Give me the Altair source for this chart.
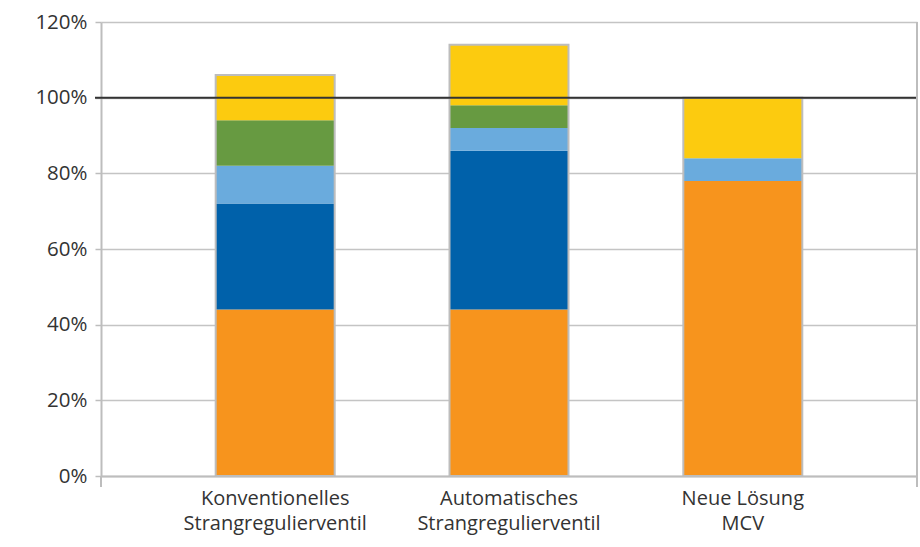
import altair as alt
import pandas as pd

categories = ["Konventionelles\nStrangregulierventil", "Automatisches\nStrangregulierventil", "Neue Lösung\nMCV"]
series = ["Anteil 1", "Anteil 2", "Anteil 3", "Anteil 4", "Anteil 5"]
colors = ["#F7941D", "#0061AA", "#6AABDD", "#679A41", "#FCCB0F"]
values = {
    "Anteil 1": [44, 44, 78],
    "Anteil 2": [28, 42, 0],
    "Anteil 3": [10, 6, 6],
    "Anteil 4": [12, 6, 0],
    "Anteil 5": [12, 16, 16],
}
y_ticks = [0, 20, 40, 60, 80, 100, 120]

rows = []
for si, s in enumerate(series):
    for ci, c in enumerate(categories):
        rows.append({"cat": c, "series": s, "order": si, "value": values[s][ci]})
df = pd.DataFrame(rows)
totals = pd.DataFrame({"cat": categories,
                       "total": [sum(values[s][i] for s in series) for i in range(len(categories))]})

W, H = 816, 454
FS = 20.5
x_enc = alt.X("cat:N", sort=categories,
              scale=alt.Scale(paddingInner=0.49, paddingOuter=0.49),
              axis=alt.Axis(title=None, labelAngle=0, ticks=False, domain=True,
                            domainColor="#BDBDBD", domainWidth=2,
                            labelExpr="split(datum.label, '\\n')",
                            labelLineHeight=25, labelPadding=12, labelBaseline="top",
                            labelLimit=400,
                            labelFontSize=20, labelColor="#333333", labelFont="Open Sans"))
y_scale = alt.Scale(domain=[0, 120], nice=False)

bars = alt.Chart(df).mark_bar(size=119).encode(
    x=x_enc,
    y=alt.Y("value:Q", stack="zero", scale=y_scale,
            axis=alt.Axis(title=None, values=y_ticks, labelExpr="datum.value + '%'",
                          grid=True, gridColor="#C4C4C4", gridWidth=1.5,
                          domainColor="#BDBDBD", domainWidth=2,
                          tickColor="#BDBDBD", tickSize=6, tickWidth=1.5,
                          labelPadding=8, labelFontSize=FS, labelColor="#333333",
                          labelFont="Open Sans")),
    color=alt.Color("series:N", scale=alt.Scale(domain=series, range=colors), legend=None),
    order=alt.Order("order:Q", sort="ascending"),
)

outline = alt.Chart(totals).mark_bar(size=119, fill=None, stroke="#BDBDBD", strokeWidth=2).encode(
    x=alt.X("cat:N", sort=categories),
    y=alt.Y("total:Q", scale=y_scale),
)

one = pd.DataFrame({"a": [0]})
line100 = alt.Chart(one).mark_rule(color="#333333", strokeWidth=2).encode(
    y=alt.datum(100), x=alt.value(-6), x2=alt.value(W))
right_edge = alt.Chart(one).mark_rule(color="#BDBDBD", strokeWidth=2).encode(
    x=alt.value(W), y=alt.value(0), y2=alt.value(H + 11))
left_ext = alt.Chart(one).mark_rule(color="#BDBDBD", strokeWidth=2).encode(
    x=alt.value(0), y=alt.value(H), y2=alt.value(H + 11))

chart = alt.layer(bars, outline, line100, right_edge, left_ext).properties(
    width=W, height=H,
    autosize=alt.AutoSizeParams(type="none"),
    padding={"left": 101, "top": 22, "right": 3, "bottom": 71},
).configure_view(stroke=None)

chart.save("out.html", embed_options={"renderer": "svg", "actions": False})
